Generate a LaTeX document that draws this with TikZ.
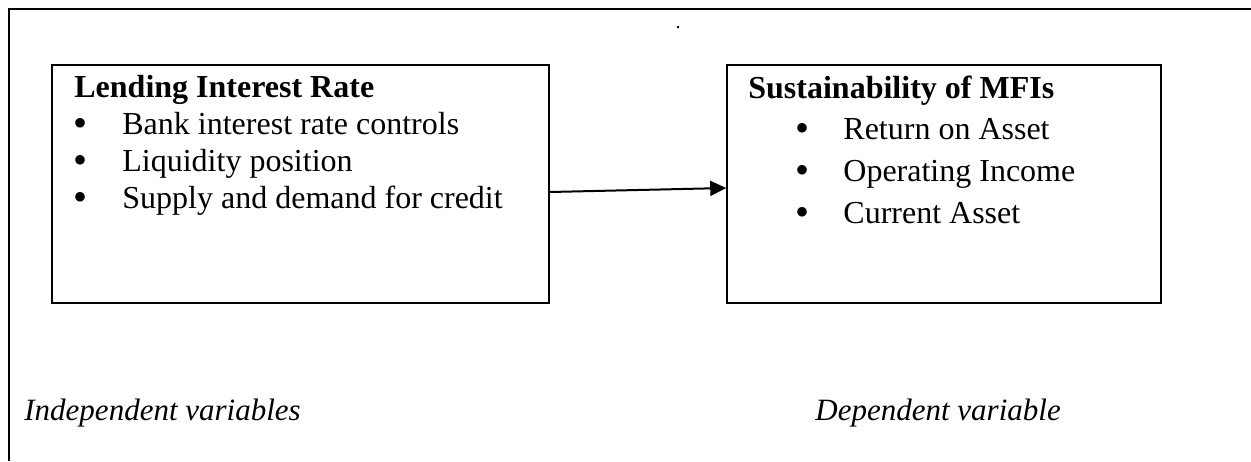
\documentclass[tikz,border=0pt]{standalone}
\usepackage{fontspec}
\setmainfont{Liberation Serif}
\usetikzlibrary{arrows.meta,calc}
\begin{document}
\begin{tikzpicture}[x=0.5pt,y=-0.5pt,
  txt/.style={anchor=base west,inner sep=0pt,font=\fontsize{16pt}{19pt}\selectfont},
  ttl/.style={txt,font=\fontsize{16pt}{19pt}\selectfont\bfseries},
  lbl/.style={txt,font=\fontsize{15.5pt}{18pt}\selectfont\itshape},
  bul/.style={anchor=base,inner sep=0pt,font=\fontsize{20pt}{22pt}\selectfont},
  varbox/.style={draw,line width=0.8pt,inner sep=0pt,minimum width=#1,minimum height=119pt},
  link/.style={line width=1pt,-{Triangle[length=8pt,width=7.5pt]}}]
\useasboundingbox (0,0) rectangle (1251,461);
% outer frame (left and top edges)
\draw[line width=1pt] (9,461) -- (9,9) -- (1251,9);
\node[inner sep=0pt,font=\fontsize{10pt}{11pt}\selectfont] (dot) at (678,28) {.};
% boxes
\node[varbox=248.5pt] (lbox) at (300.5,184) {};
\node[varbox=217pt] (rbox) at (944,184) {};
% left box text
\node[ttl] (lt) at (74,97) {Lending Interest Rate};
\node[bul] (lb1) at (81,136) {•};
\node[txt] (l1) at (122,134) {Bank interest rate controls};
\node[bul] (lb2) at (81,173) {•};
\node[txt] (l2) at (122,171) {Liquidity position};
\node[bul] (lb3) at (81,210) {•};
\node[txt] (l3) at (122,208) {Supply and demand for credit};
% right box text
\node[ttl] (rt) at (748,98) {Sustainability of MFIs};
\node[bul] (rb1) at (802,141) {•};
\node[txt] (r1) at (843,139) {Return on Asset};
\node[bul] (rb2) at (802,183) {•};
\node[txt] (r2) at (843,181) {Operating Income};
\node[bul] (rb3) at (802,225) {•};
\node[txt] (r3) at (843,223) {Current Asset};
% arrow
\draw[link] ($(lbox.east)+(0,8)$) -- ($(rbox.west)+(0,4)$);
% bottom labels
\node[lbl] (ind) at (24,420) {Independent variables};
\node[lbl] (dep) at (815,420) {Dependent variable};
\end{tikzpicture}
\end{document}
